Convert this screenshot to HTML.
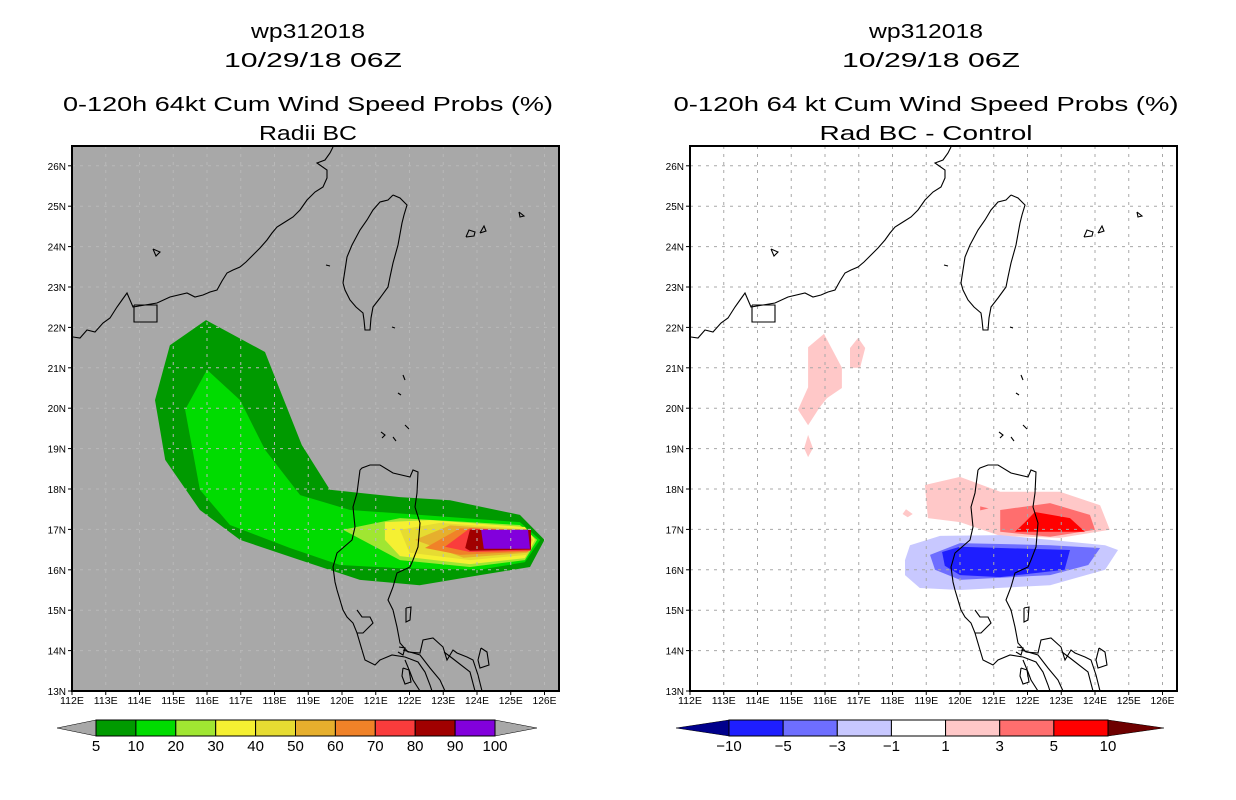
<!DOCTYPE html>
<html><head><meta charset="utf-8"><style>
html,body{margin:0;padding:0;background:#fff;}
svg{display:block;font-family:"Liberation Sans",sans-serif;}
</style></head><body>
<svg id="s" width="1236" height="800" xmlns="http://www.w3.org/2000/svg">
<rect width="1236" height="800" fill="#fff"/>
<g font-size="20" text-anchor="middle" fill="#000">
<text x="308" y="38" textLength="114" lengthAdjust="spacingAndGlyphs">wp312018</text>
<text x="313" y="67" textLength="178" lengthAdjust="spacingAndGlyphs">10/29/18 06Z</text>
<text x="308" y="111" textLength="490" lengthAdjust="spacingAndGlyphs">0-120h 64kt Cum Wind Speed Probs (%)</text>
<text x="308" y="140" textLength="98" lengthAdjust="spacingAndGlyphs">Radii BC</text>
</g>
<g font-size="20" text-anchor="middle" fill="#000">
<text x="926" y="38" textLength="114" lengthAdjust="spacingAndGlyphs">wp312018</text>
<text x="931" y="67" textLength="178" lengthAdjust="spacingAndGlyphs">10/29/18 06Z</text>
<text x="926" y="111" textLength="505" lengthAdjust="spacingAndGlyphs">0-120h 64 kt Cum Wind Speed Probs (%)</text>
<text x="926" y="140" textLength="213" lengthAdjust="spacingAndGlyphs">Rad BC - Control</text>
</g>
<g id="left"></g>
<g id="right"></g>
<g id="cbl"></g>
<g id="cbr"></g>
</svg>
<script>
// ---- data ----
const lonTicks=[112,113,114,115,116,117,118,119,120,121,122,123,124,125,126];
const latTicks=[13,14,15,16,17,18,19,20,21,22,23,24,25,26];
const probLevels=[5,10,20,30,40,50,60,70,80,90,100];
const probColors=["#009a00","#00dc00","#a0e632","#f5f032","#e6dc32","#e6af2d","#f08228","#fa3c3c","#a00000","#8200dc"];
const diffLevels=[-10,-5,-3,-1,1,3,5,10];
const diffColors=["#00008c","#1e1eff","#6e6eff","#c8c8ff","#ffffff","#ffc8c8","#ff6e6e","#ff0000","#6e0000"];
// probability contour polygons [lon,lat]
const prob5=[[115.97,22.18],[117.72,21.39],[118.22,20.33],[118.81,19.09],[119.64,17.98],[121.72,17.8],[123.2,17.72],[125.27,17.36],[126.0,16.74],[125.57,16.07],[124.09,15.87],[122.3,15.62],[120.53,15.75],[118.76,16.24],[116.98,16.74],[115.79,17.48],[114.76,18.72],[114.46,20.2],[114.9,21.56]];
const prob10=[[116.0,20.95],[116.98,20.2],[117.72,18.97],[118.76,17.85],[120.24,17.48],[122.3,17.36],[125.27,17.18],[125.87,16.74],[125.42,16.19],[124.09,16.0],[121.72,16.04],[119.94,16.12],[118.46,16.54],[116.68,17.11],[115.79,17.98],[115.35,19.96]];
const prob20=[[120.03,16.99],[121.72,17.28],[125.27,17.11],[125.78,16.74],[125.42,16.24],[123.79,16.07],[121.72,16.24]];
const prob30=[[121.27,17.18],[122.6,17.23],[125.42,17.06],[125.72,16.74],[125.42,16.29],[123.79,16.14],[121.72,16.34],[121.27,16.74]];
const prob40=[[121.72,16.99],[122.9,17.16],[125.48,17.0],[125.66,16.74],[125.48,16.37],[123.79,16.24],[122.0,16.42]];
const prob50=[[122.16,16.74],[123.2,17.1],[125.5,16.97],[125.62,16.74],[125.5,16.42],[123.6,16.3]];
const prob60=[[122.46,16.54],[123.5,17.03],[125.53,16.95],[125.6,16.74],[125.53,16.45],[123.5,16.37]];
const prob70=[[123.05,16.57],[123.79,17.03],[125.6,16.95],[125.6,16.47],[123.79,16.44]];
const prob80=[[123.65,16.54],[123.79,16.99],[125.6,16.99],[125.6,16.5],[123.79,16.47]];
const prob90=[[124.2,16.52],[124.12,16.99],[125.51,16.99],[125.57,16.52]];
const probPolys=[prob5,prob10,prob20,prob30,prob40,prob50,prob60,prob70,prob80,prob90];
const probPolyLevel=[0,1,2,3,4,5,6,7,8,9];
// difference polygons
const diffPos1=[[118.96,18.1],[120.0,18.3],[121.19,17.93],[122.96,17.93],[124.15,17.6],[124.44,16.99],[122.96,16.79],[121.19,16.84],[120.0,17.18],[119.05,17.28]];
const diffPos3=[[121.19,17.48],[122.67,17.65],[123.85,17.36],[124.0,16.99],[122.67,16.82],[121.19,16.94]];
const diffPos5=[[121.93,17.18],[122.22,17.43],[123.26,17.28],[123.7,16.94],[121.63,16.94]];
const diffPosA=[[115.5,21.51],[115.97,21.84],[116.5,21.0],[116.5,20.5],[116.06,20.25],[115.85,20.03],[115.5,19.58],[115.2,19.96],[115.5,20.52],[115.5,21.02]];
const diffPosB=[[116.74,21.49],[116.98,21.74],[117.19,21.49],[117.04,21.0],[116.74,21.0]];
const diffPosC=[[115.5,19.34],[115.64,19.01],[115.5,18.79],[115.38,19.01]];
const diffPosD=[[118.4,17.5],[118.6,17.38],[118.45,17.3],[118.3,17.38]];
const diffPosE=[[120.6,17.57],[120.85,17.52],[120.6,17.47]];
const diffNeg1=[[118.37,16.24],[118.52,16.61],[119.41,16.84],[121.19,16.86],[122.67,16.74],[124.3,16.61],[124.68,16.49],[124.3,16.0],[122.67,15.62],[120.0,15.5],[118.81,15.55],[118.37,15.87]];
const diffNeg3=[[119.11,16.37],[120.0,16.66],[122.67,16.61],[124.15,16.54],[123.8,16.12],[122.67,15.87],[120.0,15.75],[119.26,16.0]];
const diffNeg5=[[119.47,16.44],[120.0,16.57],[123.26,16.49],[123.1,16.0],[121.19,15.82],[120.0,15.87],[119.55,16.1]];
const diffPolys=[diffPos1,diffPosA,diffPosB,diffPosC,diffPosD,diffPos3,diffPosE,diffPos5,diffNeg1,diffNeg3,diffNeg5];
const diffPolyLevel=[5,5,5,5,5,6,6,7,3,2,1];

// coastlines (map geometry, left-panel screen coordinates)
const coasts=[
 [[73,337],[80,338],[87,330],[95,332],[103,323],[110,318],[117,307],[122,300],[127,293],[133,307],[145,305],[157,303],[170,297],[187,293],[195,297],[203,295],[210,292],[217,290],[222,281],[227,273],[233,270],[240,267],[246,262],[253,255],[260,248],[267,240],[272,233],[277,227],[285,222],[293,217],[300,210],[307,200],[315,192],[323,187],[327,178],[327,170],[317,163],[325,160],[330,153],[333,147]],
 [[393,195],[400,198],[407,205],[404,215],[402,223],[398,245],[393,263],[390,277],[388,287],[380,298],[373,307],[371,318],[370,330],[365,330],[364,320],[363,313],[356,307],[350,300],[345,290],[343,283],[345,270],[347,257],[352,245],[360,230],[367,220],[373,210],[380,202],[388,200],[393,195]],
 [[360,470],[362,468],[370,465],[380,465],[393,473],[410,477],[413,470],[418,472],[417,493],[415,507],[420,523],[418,547],[413,560],[410,567],[397,573],[393,587],[388,600],[393,610],[397,627],[400,643],[408,652],[420,653],[423,640],[433,638],[443,647],[447,660],[453,650],[457,653],[467,657],[473,660],[478,675],[482,691]],
 [[360,470],[357,493],[353,507],[355,527],[352,540],[337,553],[333,567],[335,582],[337,590],[343,610],[347,617],[353,623],[357,633],[363,633],[373,623],[370,617],[362,617],[357,610]],
 [[357,633],[362,650],[365,660],[375,665],[380,660],[392,655],[405,657],[418,662],[425,672],[430,685],[432,691]],
 [[134,305],[157,305],[157,322],[134,322],[134,305]],
 [[406,608],[411,607],[410,620],[406,622],[406,608]],
 [[399,647],[405,648],[403,655],[398,652]],
 [[403,650],[420,655],[430,668],[440,680],[445,691]],
 [[405,660],[410,672],[413,680],[420,691]],
 [[403,668],[409,670],[411,682],[405,684],[402,676],[403,668]],
 [[481,648],[487,652],[489,665],[480,668],[478,660],[481,648]],
 [[444,652],[452,658],[470,672],[475,691]],
 [[466,237],[474,236],[475,232],[469,230],[466,237]],[[480,233],[484,226],[486,231],[480,233]],[[519,212],[524,216],[520,217],[519,212]],
 [[326,265],[330,266]],[[153,249],[160,252],[156,256],[153,249]],
 [[403,375],[405,380]],[[398,393],[401,395]],[[381,432],[385,435],[382,438]],[[393,437],[396,441]],[[405,425],[409,429]],
 [[392,327],[395,328]]
];

const NS="http://www.w3.org/2000/svg";
function el(tag,attrs,parent){const e=document.createElementNS(NS,tag);for(const k in attrs)e.setAttribute(k,attrs[k]);parent.appendChild(e);return e;}
const Y0=146,Y1=691,W=487;
function xs(x0){return lon=>x0+(lon-112)*33.75;}
function ys(lat){return 691-(lat-13)*40.4;}

function drawMap(g,x0,bg,polys,levels,colors,gridCol){
 const X=xs(x0);
 const bgr=el('rect',{x:x0,y:Y0,width:W,height:Y1-Y0,fill:bg},g);
 
 
 const cp='clip'+x0;
 const cl=el('clipPath',{id:cp},g);el('rect',{x:x0,y:Y0,width:W,height:Y1-Y0},cl);
 const inner=el('g',{'clip-path':'url(#'+cp+')'},g);
 polys.forEach((p,i)=>{
  const pp=el('polygon',{points:p.map(q=>X(q[0]).toFixed(1)+','+ys(q[1]).toFixed(1)).join(' '),fill:colors[levels[i]]},inner);
  
  
 });
 lonTicks.forEach(l=>{el('line',{x1:X(l),x2:X(l),y1:Y0,y2:Y1,stroke:gridCol,'stroke-width':1,'stroke-dasharray':'3,5'},inner);});
 latTicks.forEach(l=>{el('line',{x1:x0,x2:x0+W,y1:ys(l),y2:ys(l),stroke:gridCol,'stroke-width':1,'stroke-dasharray':'3,5'},inner);});
 coasts.forEach(c=>{
  const pl=el('polyline',{points:c.map(q=>(q[0]-72+x0)+','+q[1]).join(' '),fill:'none',stroke:'#000','stroke-width':1.1},inner);
  
  
 });
 el('rect',{x:x0,y:Y0,width:W,height:Y1-Y0,fill:'none',stroke:'#000','stroke-width':2},g);
 lonTicks.forEach(l=>{
  el('line',{x1:X(l),x2:X(l),y1:Y1,y2:Y1+4,stroke:'#000'},g);
  const t=el('text',{x:X(l),y:Y1+13,'font-size':10,'text-anchor':'middle',textLength:24,lengthAdjust:'spacingAndGlyphs'},g);
  t.textContent=l+'E';
  
  
 });
 latTicks.forEach(l=>{
  el('line',{x1:x0-4,x2:x0,y1:ys(l),y2:ys(l),stroke:'#000'},g);
  const t=el('text',{x:x0-6,y:ys(l)+4,'font-size':10,'text-anchor':'end'},g);
  t.textContent=l+'N';
  
  
 });
}
drawMap(document.getElementById('left'),72,'#a8a8a8',probPolys,probPolyLevel,probColors,'#b8b8b8');
drawMap(document.getElementById('right'),690,'#ffffff',diffPolys,diffPolyLevel,diffColors,'#a8a8a8');

function colorbar(g,x0,x1,tl,tr,y,h,cols,labels,triL,triR){
 const n=cols.length,bw=(x1-x0)/n;
 el('polygon',{points:`${tl},${y+h/2} ${x0},${y} ${x0},${y+h}`,fill:triL,stroke:'#000','stroke-width':0.5},g);
 el('polygon',{points:`${tr},${y+h/2} ${x1},${y} ${x1},${y+h}`,fill:triR,stroke:'#000','stroke-width':0.5},g);
 cols.forEach((c,i)=>{
  const r=el('rect',{x:x0+i*bw,y:y,width:bw,height:h,fill:c,stroke:'#000','stroke-width':1},g);
  
  
 });
 labels.forEach((l,i)=>{
  const t=el('text',{x:x0+i*bw,y:y+h+15,'font-size':15,'text-anchor':'middle'},g);
  t.textContent=(l<0?'\u2212':'')+Math.abs(l);
  
  
 });
}
colorbar(document.getElementById('cbl'),96,495,57,537,720,16,probColors,probLevels,'#a8a8a8','#a8a8a8');
colorbar(document.getElementById('cbr'),729,1108,676,1164,720,16,diffColors.slice(1,8),diffLevels,diffColors[0],diffColors[8]);
</script>
</body></html>
